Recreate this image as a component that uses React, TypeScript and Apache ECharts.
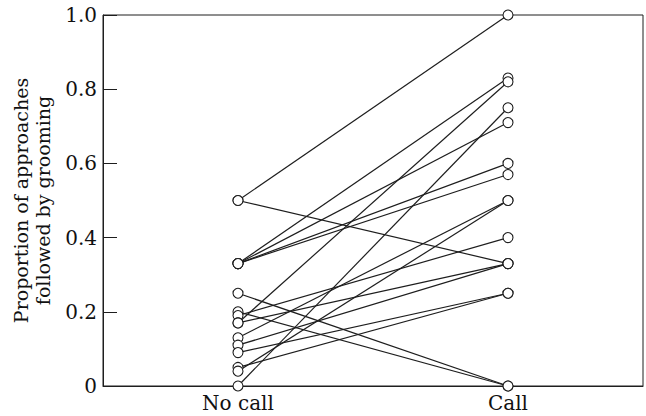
import React, { useEffect, useRef } from "react";
import * as echarts from "echarts";

const categories = ["No call", "Call"];
// Paired proportions for each individual: value without call -> value with call
const noCallValues = [0.5, 0.5, 0.33, 0.33, 0.33, 0.33, 0.25, 0.2, 0.19, 0.17, 0.17, 0.13, 0.11, 0.09, 0.05, 0.04, 0.0];
const callValues = [1.0, 0.33, 0.83, 0.71, 0.6, 0.57, 0.0, 0.0, 0.4, 0.82, 0.33, 0.5, 0.33, 0.25, 0.25, 0.5, 0.75];
const yTicks = [0, 0.2, 0.4, 0.6, 0.8, 1.0];
const yAxisTitle = "Proportion of approaches\nfollowed by grooming";

const FONT = "DejaVu Serif";
const INK = "#1e1e1e";

export default function App() {
  const ref = useRef<HTMLDivElement>(null);
  useEffect(() => {
    if (!ref.current) return;
    const chart = echarts.init(ref.current, null, { renderer: "svg" });
    const lineSeries = noCallValues.map((v0, i) => ({
      type: "line",
      data: [
        [categories[0], v0],
        [categories[1], callValues[i]],
      ],
      symbol: "none",
      lineStyle: { color: INK, width: 1.2 },
      z: 2,
      silent: true,
    }));
    const pts: [string, number][] = [];
    noCallValues.forEach((v) => pts.push([categories[0], v]));
    callValues.forEach((v) => pts.push([categories[1], v]));
    chart.setOption({
      animation: false,
      backgroundColor: "#fff",
      grid: {
        left: 103,
        right: 3,
        top: 15,
        bottom: 30,
        show: true,
        borderColor: INK,
        borderWidth: 1,
        backgroundColor: "transparent",
      },
      xAxis: {
        type: "category",
        data: categories,
        boundaryGap: true,
        axisLine: { show: true, lineStyle: { color: INK, width: 1 } },
        axisTick: { show: false },
        axisLabel: { color: "#111", fontFamily: FONT, fontSize: 20, margin: 7 },
        splitLine: { show: false },
      },
      yAxis: {
        type: "value",
        min: 0,
        max: 1,
        interval: 0.2,
        axisLine: { show: true, lineStyle: { color: INK, width: 1 } },
        axisTick: { show: true, inside: true, length: 14, lineStyle: { color: INK } },
        axisLabel: {
          color: "#111",
          fontFamily: FONT,
          fontSize: 20,
          margin: 6,
          formatter: (v: number) => {
            const t = yTicks.find((k) => Math.abs(k - v) < 1e-9);
            if (t === undefined) return "";
            return t === 0 ? "0" : t.toFixed(1);
          },
        },
        splitLine: { show: false },
        name: yAxisTitle,
        nameLocation: "middle",
        nameGap: 48,
        nameTextStyle: { color: "#111", fontFamily: FONT, fontSize: 19, lineHeight: 22, align: "center" },
      },
      series: [
        ...lineSeries,
        {
          type: "scatter",
          data: pts,
          symbol: "circle",
          symbolSize: 10,
          itemStyle: { color: "#fff", borderColor: INK, borderWidth: 1.1, opacity: 1 },
          z: 5,
          silent: true,
        },
      ],
    });
    return () => chart.dispose();
  }, []);
  return (
    <div
      ref={ref}
      style={{ position: "fixed", left: 0, top: 0, width: 646, height: 416, background: "#fff" }}
    />
  );
}
